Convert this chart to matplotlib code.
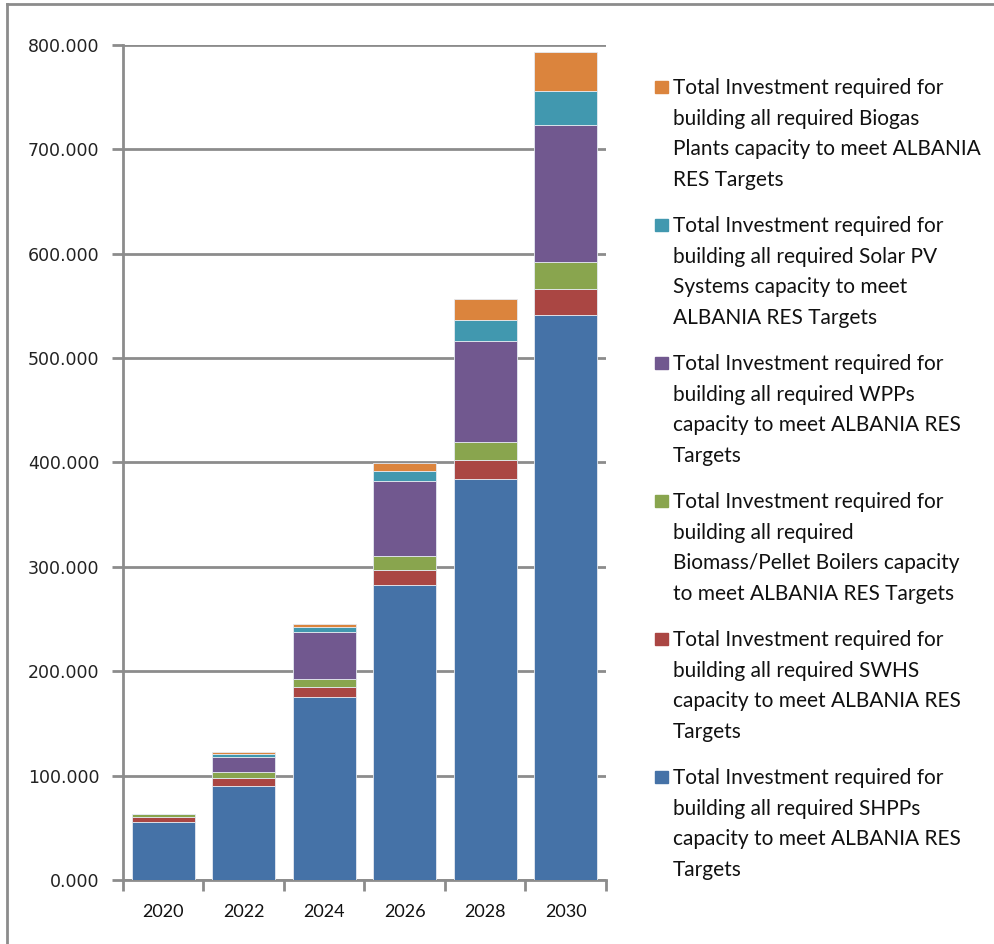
import numpy as np
import matplotlib.pyplot as plt
from matplotlib.patches import Rectangle
from matplotlib.lines import Line2D

years = ['2020', '2022', '2024', '2026', '2028', '2030']

# stacked series, bottom to top
shpp = [55.9, 90.4, 175.6, 282.6, 384.5, 541.6]
swhs = [4.0, 7.6, 9.6, 14.7, 17.9, 24.9]
biomass = [3.2, 5.1, 7.7, 12.8, 17.2, 25.2]
wpp = [0.0, 15.0, 45.0, 72.2, 97.1, 131.9]
solar = [0.0, 2.6, 4.5, 9.6, 20.2, 32.3]
biogas = [0.0, 2.2, 2.9, 7.9, 19.7, 37.4]

series = [shpp, swhs, biomass, wpp, solar, biogas]
colors = ['#4572A7', '#AA4643', '#89A54E', '#71588F', '#4198AF', '#DB843D']
labels = [
    "Total Investment required for\nbuilding all required SHPPs\ncapacity to meet ALBANIA RES\nTargets",
    "Total Investment required for\nbuilding all required SWHS\ncapacity to meet ALBANIA RES\nTargets",
    "Total Investment required for\nbuilding all required\nBiomass/Pellet Boilers capacity\nto meet ALBANIA RES Targets",
    "Total Investment required for\nbuilding all required WPPs\ncapacity to meet ALBANIA RES\nTargets",
    "Total Investment required for\nbuilding all required Solar PV\nSystems capacity to meet\nALBANIA RES Targets",
    "Total Investment required for\nbuilding all required Biogas\nPlants capacity to meet ALBANIA\nRES Targets",
]

W, H = 995, 944
fig = plt.figure(figsize=(W / 100, H / 100), dpi=100)
ax = fig.add_axes([123 / W, 1 - 880 / H, (606 - 123) / W, (880 - 45) / H])

x = np.arange(len(years))
bottom = np.zeros(len(years))
for vals, c in zip(series, colors):
    ax.bar(x, vals, bottom=bottom, width=0.78, color=c, edgecolor='#e4e9f0',
           linewidth=0.6, zorder=3)
    bottom += np.array(vals)

gray = '#8c8c8c'
ax.set_ylim(0, 800)
ax.set_xlim(-0.5, len(years) - 0.5)
ax.set_yticks(np.arange(0, 801, 100))
ax.set_yticklabels([f'{v:.3f}' for v in np.arange(0, 801, 100)],
                   fontsize=12.5, family='DejaVu Sans', color='#222222')
ax.yaxis.grid(True, color=gray, linewidth=2, zorder=0)
ax.set_xticks(x)
ax.set_xticklabels(years, fontsize=13, family='Lato', color='#111111')
ax.set_xticks(np.arange(-0.5, len(years)), minor=True)
ax.tick_params(axis='x', which='major', length=0, pad=17)
ax.tick_params(axis='x', which='minor', length=8, width=2, color=gray)
ax.tick_params(axis='y', length=8, width=2, color=gray, pad=9)
for s in ['top', 'right']:
    ax.spines[s].set_visible(False)
for s in ['left', 'bottom']:
    ax.spines[s].set_color(gray)
    ax.spines[s].set_linewidth(2)

# legend drawn by hand: square aligned with first line, top to bottom
for i, k in enumerate(range(len(series) - 1, -1, -1)):
    top = 78 + i * 138
    fig.patches.append(Rectangle((655 / W, 1 - (81 + i * 138 + 12) / H), 13 / W, 12 / H,
                                 transform=fig.transFigure, color=colors[k]))
    fig.text(673 / W, 1 - top / H, labels[k], ha='left', va='top',
             fontsize=15, family='Lato', linespacing=1.67, color='#111111')

# outer chart border
fig.add_artist(Line2D([7 / W, 7 / W], [0, 1 - 4 / H], color=gray, linewidth=2,
                      transform=fig.transFigure))
fig.add_artist(Line2D([7 / W, 1], [1 - 4 / H, 1 - 4 / H], color=gray, linewidth=2,
                      transform=fig.transFigure))

fig.savefig('out.png', dpi=100)
